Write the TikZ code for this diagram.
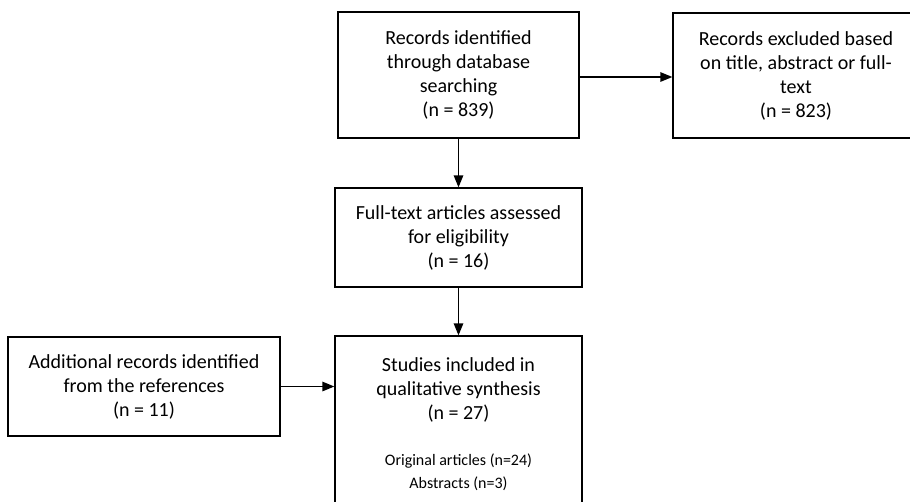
\documentclass[tikz,border=0pt]{standalone}
\usepackage{fontspec}
\setmainfont{Carlito}
\usetikzlibrary{arrows.meta,calc}
\begin{document}
\begin{tikzpicture}[x=1pt,y=-1pt,
  box/.style={draw=black, line width=1.3pt, inner sep=0pt, align=center,
    font=\fontsize{20}{24}\selectfont},
  big/.style={font=\fontsize{20}{24}\selectfont, align=center, inner sep=0pt},
  small/.style={font=\fontsize{16}{22.7}\selectfont, align=center, inner sep=0pt},
  arr/.style={line width=1.3pt, -{Triangle[length=12pt,width=9.5pt]}}]
\useasboundingbox (0,0) rectangle (910,501);
\clip (0,0) rectangle (910,501);
\fill[white] (0,0) rectangle (910,501);
\node[box, minimum width=241pt, minimum height=126pt] (A) at (458.5,75)
  {Records identified\\through database\\searching\\(n = 839)};
\node[box, minimum width=246pt, minimum height=125pt] (B) at (796,75.5)
  {Records excluded based\\on title, abstract or full-\\text\\(n = 823)};
\node[box, minimum width=247pt, minimum height=99pt] (C) at (458.5,237.5)
  {Full-text articles assessed\\for eligibility\\(n = 16)};
\node[box, minimum width=247pt, minimum height=224pt] (D) at (458.5,448) {};
\node[big] (Dt) at (458.5,390) {Studies included in\\qualitative synthesis\\(n = 27)};
\node[small] (Ds) at (458.5,472) {Original articles (n=24)\\Abstracts (n=3)};
\node[box, minimum width=272pt, minimum height=99pt] (E) at (144,386.5)
  {Additional records identified\\from the references\\(n = 11)};
\coordinate (Aout) at ($(A.east)+(0,2)$);
\draw[arr] (A) -- (C);
\draw[arr] (C) -- (D);
\draw[arr] (Aout) -- (Aout -| B.west);
\draw[arr] (E.east) -- (E.east -| D.west);
\end{tikzpicture}
\end{document}
